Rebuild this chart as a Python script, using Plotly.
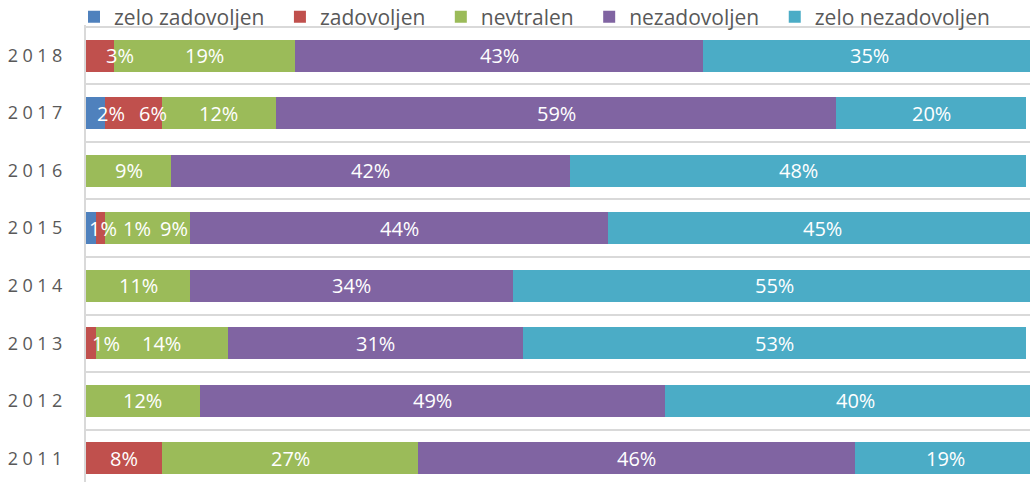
import plotly.graph_objects as go

years = ["2011", "2012", "2013", "2014", "2015", "2016", "2017", "2018"]
year_labels = ["2\u20050\u20051\u20051", "2\u20050\u20051\u20052", "2\u20050\u20051\u20053", "2\u20050\u20051\u20054",
               "2\u20050\u20051\u20055", "2\u20050\u20051\u20056", "2\u20050\u20051\u20057", "2\u20050\u20051\u20058"]

series_names = ["zelo zadovoljen", "zadovoljen", "nevtralen", "nezadovoljen", "zelo nezadovoljen"]
zelo_zadovoljen = [0, 0, 0, 0, 1, 0, 2, 0]
zadovoljen = [8, 0, 1, 0, 1, 0, 6, 3]
nevtralen = [27, 12, 14, 11, 9, 9, 12, 19]
nezadovoljen = [46, 49, 31, 34, 44, 42, 59, 43]
zelo_nezadovoljen = [19, 40, 53, 55, 45, 48, 20, 35]

colors = ["#4F81BD", "#C0504D", "#9BBB59", "#8064A2", "#4BACC6"]

# pixel nudges for crowded labels (style only)
label_shift = {
    ("2018", 1): 20,
    ("2017", 0): 15, ("2017", 1): 20,
    ("2015", 0): 12, ("2015", 1): 37, ("2015", 2): 26,
    ("2013", 1): 15,
}

all_series = [zelo_zadovoljen, zadovoljen, nevtralen, nezadovoljen, zelo_nezadovoljen]

fig = go.Figure()
for name, vals, col in zip(series_names, all_series, colors):
    fig.add_trace(go.Bar(
        y=years, x=vals, name=name + "\u2002", orientation="h",
        marker=dict(color=col, line=dict(width=0)),
        hoverinfo="x+name",
    ))

annotations = []
for i, yr in enumerate(years):
    cum = 0
    for s, vals in enumerate(all_series):
        v = vals[i]
        if v > 0:
            annotations.append(dict(
                x=cum + v / 2, y=i, xref="x", yref="y",
                text=f"{v}%", showarrow=False,
                xshift=label_shift.get((yr, s), 0),
                font=dict(family="Open Sans", size=20, color="white"),
            ))
        cum += v

fig.update_layout(
    barmode="stack",
    bargap=0.444,
    width=1030, height=482,
    margin=dict(l=86, r=0, t=25, b=0, autoexpand=False),
    plot_bgcolor="white", paper_bgcolor="white",
    showlegend=True,
    legend=dict(
        orientation="h", xref="container", x=74 / 1030, xanchor="left",
        yref="container", y=1 - 17 / 482, yanchor="middle",
        font=dict(family="Open Sans", size=21, color="#595959"),
        traceorder="normal", itemclick=False,
        bgcolor="rgba(0,0,0,0)",
    ),
    annotations=annotations,
    xaxis=dict(range=[0, 99.4], showgrid=False, showticklabels=False,
               zeroline=False, showline=False, fixedrange=True),
    yaxis=dict(
        type="category", categoryorder="array", categoryarray=years,
        tickvals=years, ticktext=year_labels,
        range=[-0.41, 7.53], automargin=False,
        tickson="boundaries", ticks="", showgrid=True,
        gridcolor="#D9D9D9", gridwidth=2,
        showline=True, linecolor="#D9D9D9", linewidth=2,
        tickfont=dict(family="Open Sans", size=18, color="#595959"),
        ticklabelstandoff=18,
    ),
)

fig.write_html("out.html", config={"responsive": False, "displayModeBar": False},
               post_script="document.body.style.margin='0';")
